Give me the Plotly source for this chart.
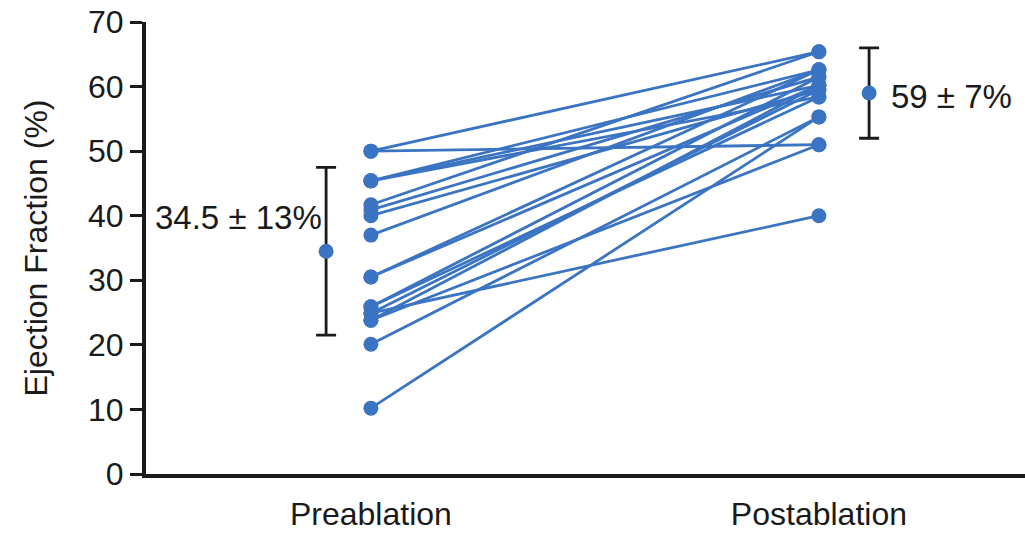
import plotly.graph_objects as go

# Paired ejection fraction (%) per patient, before and after ablation
pre_ef = [50, 50, 45.4, 45.4, 45.4, 41.7, 40.9, 40.0, 37.0, 30.5, 30.5,
          25.9, 25.9, 24.9, 24.9, 23.8, 23.8, 20.1, 10.2]
post_ef = [65.4, 51.0, 62.6, 60.2, 58.4, 65.4, 61.5, 59.5, 62.6, 62.6, 60.2,
           61.5, 58.4, 40.0, 59.5, 51.0, 60.2, 55.3, 55.3]

groups = ["Preablation", "Postablation"]
group_pos = [0, 1]

# Group summaries: mean and SD
mean_vals = [34.5, 59]
sd_vals = [13, 7]
mean_pos = [-0.1, 1.112]
mean_labels = ["34.5 ± 13%", "59 ± 7%"]

y_ticks = [0, 10, 20, 30, 40, 50, 60, 70]

blue = "#3a74c2"
ink = "#1a1a1a"
font_family = "Liberation Sans, Arial, sans-serif"

fig = go.Figure()

for a, b in zip(pre_ef, post_ef):
    fig.add_trace(go.Scatter(
        x=group_pos, y=[a, b], mode="lines+markers",
        line=dict(color=blue, width=2.8),
        marker=dict(color=blue, size=15),
        showlegend=False, hoverinfo="y",
    ))

fig.add_trace(go.Scatter(
    x=mean_pos, y=mean_vals, mode="markers",
    marker=dict(color=blue, size=15),
    error_y=dict(type="data", array=sd_vals, color=ink, thickness=2.8, width=10),
    showlegend=False,
))

fig.add_annotation(x=mean_pos[0], y=mean_vals[0], text=mean_labels[0],
                   xref="x", yref="y", showarrow=False, xanchor="right",
                   xshift=-2, yshift=34,
                   font=dict(size=33, color=ink, family=font_family))
fig.add_annotation(x=mean_pos[1], y=mean_vals[1], text=mean_labels[1],
                   xref="x", yref="y", showarrow=False, xanchor="left",
                   xshift=20, yshift=-3,
                   font=dict(size=33, color=ink, family=font_family))

fig.update_layout(
    width=1025, height=533,
    margin=dict(l=146, r=0, t=22, b=59),
    paper_bgcolor="white", plot_bgcolor="white",
    font=dict(family=font_family, size=32, color=ink),
    xaxis=dict(
        range=[-0.502, 1.46], tickmode="array", tickvals=group_pos,
        ticktext=groups, ticks="", showgrid=False, zeroline=False,
        showline=True, linecolor=ink, linewidth=4, automargin=False,
        ticklabelstandoff=9, tickfont=dict(size=32),
    ),
    yaxis=dict(
        range=[0, 70], tickmode="array", tickvals=y_ticks,
        ticks="outside", ticklen=12, tickwidth=3, tickcolor=ink,
        showgrid=False, zeroline=False, showline=True, linecolor=ink,
        linewidth=4, tickfont=dict(size=32), automargin=False,
        title=dict(text="Ejection Fraction (%)", font=dict(size=32), standoff=32),
    ),
)

fig.write_html("out.html")
